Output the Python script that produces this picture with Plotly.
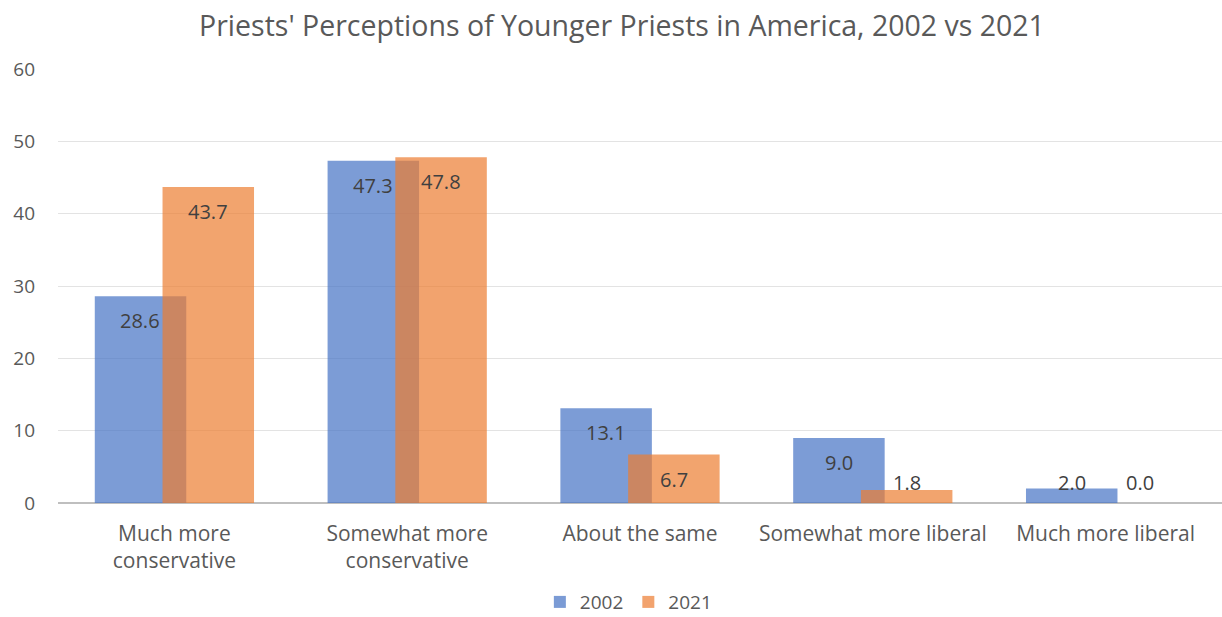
import plotly.graph_objects as go

categories = ["Much more<br>conservative", "Somewhat more<br>conservative",
              "About the same", "Somewhat more liberal", "Much more liberal"]
values_2002 = [28.6, 47.3, 13.1, 9.0, 2.0]
values_2021 = [43.7, 47.8, 6.7, 1.8, 0.0]
y_ticks = [0, 10, 20, 30, 40, 50, 60]

FONT = "Open Sans"
TXT = "#595959"
BLUE = "#4472C4"
ORANGE = "#ED7D31"
BAR_W = 0.393

fig = go.Figure()
fig.add_trace(go.Bar(
    x=categories, y=values_2002, name="2002",
    marker=dict(color=BLUE, line=dict(width=0)), opacity=0.7,
    width=BAR_W, offset=-0.342, hoverinfo="y",
))
fig.add_trace(go.Bar(
    x=categories, y=values_2021, name="2021",
    marker=dict(color=ORANGE, line=dict(width=0)), opacity=0.7,
    width=BAR_W, offset=-0.051, hoverinfo="y",
))

annotations = []
for series, shift in ((values_2002, -34), (values_2021, 34)):
    for cat, v in zip(categories, series):
        annotations.append(dict(
            x=cat, y=max(v - 3.4, 2.9), xref="x", yref="y",
            text=f"{v:.1f}", showarrow=False, xshift=shift,
            yanchor="middle", xanchor="center",
            font=dict(family=FONT, size=20, color="#404040"),
        ))

fig.update_layout(
    width=1222, height=617,
    margin=dict(l=58, r=0, t=69, b=114, autoexpand=False),
    paper_bgcolor="white", plot_bgcolor="white",
    barmode="overlay",
    title=dict(text="Priests' Perceptions of Younger Priests in America, 2002 vs 2021",
               x=0.509, xref="container", xanchor="center", y=0.958, yanchor="middle",
               font=dict(family=FONT, size=28.5, color=TXT)),
    font=dict(family=FONT, color=TXT),
    xaxis=dict(showgrid=False, showline=False, ticks="", automargin=False,
               ticklabelstandoff=16,
               tickfont=dict(family=FONT, size=21, color=TXT)),
    yaxis=dict(range=[0, 60], tickvals=y_ticks, showgrid=True, gridcolor="#E3E3E3",
               gridwidth=1, zeroline=True, zerolinecolor="#BFBFBF", zerolinewidth=2,
               showline=False, ticks="", ticklabelstandoff=22, automargin=False,
               tickfont=dict(family=FONT, size=19, color=TXT)),
    legend=dict(orientation="h", x=0.49, xanchor="center", y=-0.272, yanchor="bottom",
                font=dict(family=FONT, size=19, color=TXT), itemwidth=30,
                traceorder="normal"),
    annotations=annotations,
    showlegend=True,
)

fig.write_html("out.html")
